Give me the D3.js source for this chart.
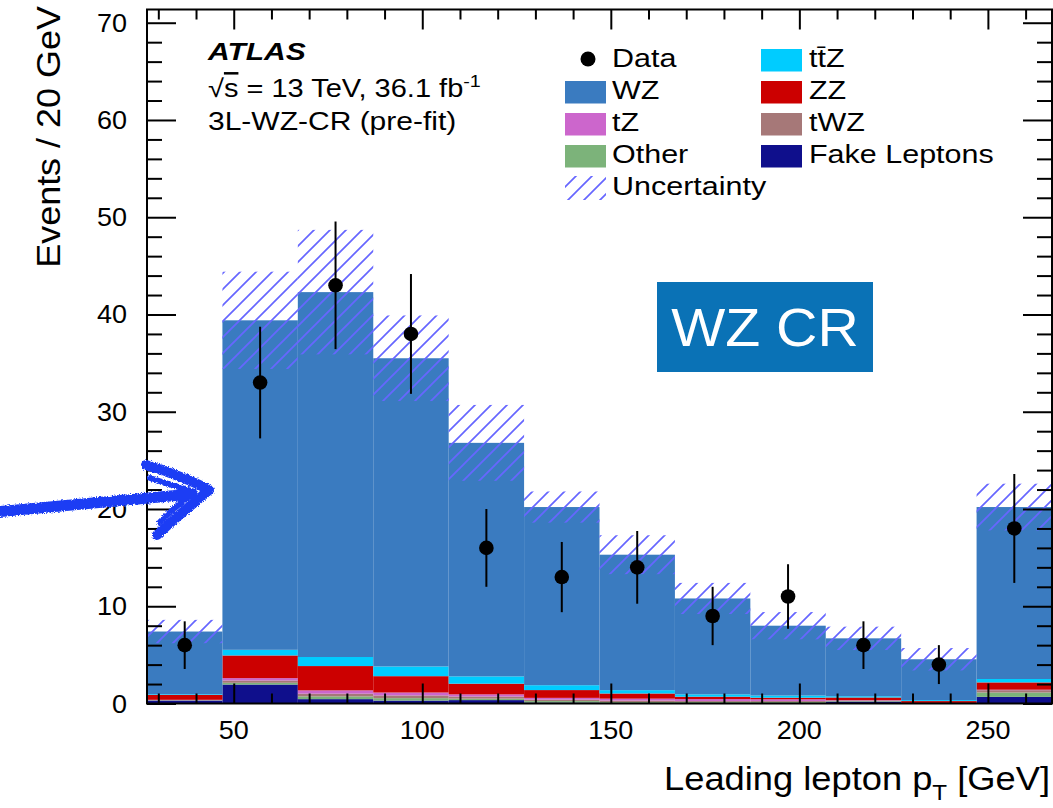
<!DOCTYPE html>
<html>
<head>
<meta charset="utf-8">
<script src="https://cdn.jsdelivr.net/npm/d3@7/dist/d3.min.js"></script>
<style>
  html, body { margin: 0; padding: 0; background: #fff; }
  svg { display: block; font-family: "Liberation Sans", Arial, Helvetica, sans-serif; }
</style>
</head>
<body>
<svg id="chart" width="1053" height="808"></svg>
<script>
// Leading lepton pT distribution, 3L-WZ-CR (pre-fit)
const binEdges = [27, 47, 67, 87, 107, 127, 147, 167, 187, 207, 227, 247, 267];

const dataCounts = [6, 33, 43, 38, 16, 13, 14, 9, 11, 6, 4, 18];
const dataErr    = [2.45, 5.74, 6.56, 6.16, 4.0, 3.61, 3.74, 3.0, 3.32, 2.45, 2.0, 5.6];

// background components, bottom of the stack first
const fakeLeptons = [0.30, 1.95, 0.45, 0.30, 0.35, 0.10, 0.05, 0.05, 0.05, 0.20, 0.02, 0.68];
const other       = [0.03, 0.18, 0.28, 0.25, 0.15, 0.15, 0.10, 0.10, 0.10, 0.05, 0.01, 0.45];
const tWZ         = [0.02, 0.24, 0.28, 0.28, 0.22, 0.15, 0.15, 0.10, 0.10, 0.05, 0.01, 0.24];
const tZ          = [0.03, 0.24, 0.34, 0.30, 0.22, 0.18, 0.20, 0.20, 0.18, 0.04, 0.01, 0.05];
const zz          = [0.50, 2.33, 2.50, 1.68, 1.10, 0.80, 0.53, 0.25, 0.17, 0.28, 0.20, 0.75];
const ttZ         = [0.07, 0.58, 0.93, 1.00, 0.75, 0.50, 0.34, 0.24, 0.22, 0.13, 0.10, 0.35];
const wz          = [6.45, 33.88, 37.52, 31.69, 24.01, 18.32, 13.93, 9.86, 7.18, 5.95, 4.20, 17.68];

const totalUncert = [1.2, 5.0, 6.4, 4.4, 3.9, 1.6, 2.0, 1.6, 1.4, 1.2, 1.15, 2.4];

const xMajorTicks = [50, 100, 150, 200, 250];
const xMinorTicks = [30, 40, 60, 70, 80, 90, 110, 120, 130, 140, 160, 170, 180, 190, 210, 220, 230, 240, 260];
const yMajorTicks = [0, 10, 20, 30, 40, 50, 60, 70];
const yMinorTicks = d3.range(0, 72, 2).filter(v => v % 10 !== 0);

const series = [
  { key: "fake",  name: "Fake Leptons", values: fakeLeptons, color: "#0f0f8c" },
  { key: "other", name: "Other",        values: other,       color: "#7cb37a" },
  { key: "tWZ",   name: "tWZ",          values: tWZ,         color: "#a67878" },
  { key: "tZ",    name: "tZ",           values: tZ,          color: "#cc66cc" },
  { key: "zz",    name: "ZZ",           values: zz,          color: "#cc0000" },
  { key: "ttZ",   name: "tt\u0304Z",    values: ttZ,         color: "#00ccff" },
  { key: "wz",    name: "WZ",           values: wz,          color: "#3a7bc0" }
];

const plot = { left: 147, right: 1052, top: 9.5, bottom: 703.5 };
const TEXT_SX = 1.2;   // horizontal stretch of the Helvetica-like text

const svg = d3.select("#chart");

const x = d3.scaleLinear().domain([binEdges[0], binEdges[binEdges.length - 1]]).range([plot.left, plot.right]);
const y = d3.scaleLinear().domain([0, 71.36]).range([plot.bottom, plot.top]);

// hatch pattern for the uncertainty band
const defs = svg.append("defs");
const hatch = defs.append("pattern")
  .attr("id", "hatch").attr("patternUnits", "userSpaceOnUse")
  .attr("width", 16).attr("height", 16);
hatch.append("path")
  .attr("d", "M0,16 L16,0 M-4,4 L4,-4 M12,20 L20,12")
  .attr("stroke", "#6666ff").attr("stroke-width", 1.7).attr("fill", "none");

// rough-edge filter for the marker-pen arrow
const rough = defs.append("filter").attr("id", "rough")
  .attr("x", "-10%").attr("y", "-20%").attr("width", "120%").attr("height", "140%");
rough.append("feTurbulence").attr("type", "fractalNoise").attr("baseFrequency", 0.9)
  .attr("numOctaves", 2).attr("seed", 3).attr("result", "noise");
rough.append("feDisplacementMap").attr("in", "SourceGraphic").attr("in2", "noise")
  .attr("scale", 4).attr("xChannelSelector", "R").attr("yChannelSelector", "G");

// stacked histogram
const rows = dataCounts.map((_, i) => {
  const r = { i };
  series.forEach(s => { r[s.key] = s.values[i]; });
  return r;
});
const stacked = d3.stack().keys(series.map(s => s.key))(rows);

const gHist = svg.append("g");
stacked.forEach((layer, li) => {
  gHist.selectAll(null).data(layer).enter().append("rect")
    .attr("x", d => x(binEdges[d.data.i]))
    .attr("width", d => x(binEdges[d.data.i + 1]) - x(binEdges[d.data.i]))
    .attr("y", d => y(d[1]))
    .attr("height", d => Math.max(0, y(d[0]) - y(d[1])))
    .attr("fill", series[li].color);
});

// uncertainty band on the total prediction
const totals = rows.map((r, i) => d3.sum(series, s => s.values[i]));
svg.append("g").selectAll("rect").data(totals).enter().append("rect")
  .attr("x", (d, i) => x(binEdges[i]))
  .attr("width", (d, i) => x(binEdges[i + 1]) - x(binEdges[i]))
  .attr("y", (d, i) => y(d + totalUncert[i]))
  .attr("height", (d, i) => y(d - totalUncert[i]) - y(d + totalUncert[i]))
  .attr("fill", "url(#hatch)");

// data points with error bars
const centers = dataCounts.map((_, i) => (binEdges[i] + binEdges[i + 1]) / 2);
const gData = svg.append("g");
gData.selectAll("line").data(dataCounts).enter().append("line")
  .attr("x1", (d, i) => x(centers[i])).attr("x2", (d, i) => x(centers[i]))
  .attr("y1", (d, i) => y(d + dataErr[i])).attr("y2", (d, i) => y(d - dataErr[i]))
  .attr("stroke", "#000").attr("stroke-width", 2);
gData.selectAll("circle").data(dataCounts).enter().append("circle")
  .attr("cx", (d, i) => x(centers[i])).attr("cy", d => y(d))
  .attr("r", 7.3).attr("fill", "#000");

// axes: ticks point into the frame, on all four sides
function tickAxis(axisFn, scale, values, size, transform) {
  const g = svg.append("g").attr("transform", transform)
    .call(axisFn(scale).tickValues(values).tickSizeInner(-size).tickSizeOuter(0).tickFormat(""));
  g.select(".domain").remove();
  g.selectAll(".tick line").attr("stroke", "#000").attr("stroke-width", 2);
  return g;
}
tickAxis(d3.axisBottom, x, xMajorTicks, 20, `translate(0,${plot.bottom})`);
tickAxis(d3.axisBottom, x, xMinorTicks, 10, `translate(0,${plot.bottom})`);
tickAxis(d3.axisTop, x, xMajorTicks, 20, `translate(0,${plot.top})`);
tickAxis(d3.axisTop, x, xMinorTicks, 10, `translate(0,${plot.top})`);
tickAxis(d3.axisLeft, y, yMajorTicks, 29, `translate(${plot.left},0)`);
tickAxis(d3.axisLeft, y, yMinorTicks, 15, `translate(${plot.left},0)`);
tickAxis(d3.axisRight, y, yMajorTicks, 29, `translate(${plot.right},0)`);
tickAxis(d3.axisRight, y, yMinorTicks, 15, `translate(${plot.right},0)`);

svg.append("rect")
  .attr("x", plot.left).attr("y", plot.top)
  .attr("width", plot.right - plot.left).attr("height", plot.bottom - plot.top)
  .attr("fill", "none").attr("stroke", "#000").attr("stroke-width", 2);

// text helper with horizontal stretch
function label(parent, px, py, str, o = {}) {
  const t = parent.append("text")
    .attr("transform", `translate(${px},${py}) ${o.rotate ? `rotate(${o.rotate})` : ""} scale(${o.sx ?? TEXT_SX},1)`)
    .attr("font-size", o.size || 25)
    .attr("text-anchor", o.anchor || "start")
    .attr("fill", o.fill || "#000");
  if (o.weight) t.attr("font-weight", o.weight);
  if (o.italic) t.attr("font-style", "italic");
  if (str !== null) t.text(str);
  return t;
}

const gText = svg.append("g");

// tick labels
xMajorTicks.forEach(v => label(gText, x(v), 739, String(v), { size: 25, anchor: "middle", sx: 1.08 }));
yMajorTicks.forEach(v => label(gText, 127, y(v) + 9, String(v), { size: 25, anchor: "end", sx: 1.08 }));

// axis titles
const xt = label(gText, 1050, 790, null, { size: 33, anchor: "end", sx: 1.1 });
xt.append("tspan").text("Leading lepton p");
xt.append("tspan").attr("font-size", 22).attr("dy", 10).text("T");
xt.append("tspan").attr("dy", -10).text(" [GeV]");

label(gText, 60, 6, "Events / 20 GeV", { size: 33, anchor: "end", rotate: -90, sx: 1.09 });

// ATLAS labels
label(gText, 208, 60, "ATLAS", { size: 24, weight: "bold", italic: true, sx: 1.25 });
const lumi = label(gText, 208, 97, null, { size: 25, sx: 1.16 });
lumi.append("tspan").text("\u221A");
lumi.append("tspan").style("text-decoration", "overline").text("s");
lumi.append("tspan").text(" = 13 TeV, 36.1 fb");
lumi.append("tspan").attr("font-size", 17).attr("dy", -10).text("-1");
label(gText, 208, 130, "3L-WZ-CR (pre-fit)", { size: 25, sx: 1.2 });

// legend
const gLeg = svg.append("g");
const legendRows = [
  { col: 0, row: 0, type: "data", name: "Data" },
  { col: 0, row: 1, key: "wz" },
  { col: 0, row: 2, key: "tZ" },
  { col: 0, row: 3, key: "other" },
  { col: 0, row: 4, type: "band", name: "Uncertainty" },
  { col: 1, row: 0, key: "ttZ" },
  { col: 1, row: 1, key: "zz" },
  { col: 1, row: 2, key: "tWZ" },
  { col: 1, row: 3, key: "fake" }
];
const colBoxX = [565, 761], colTextX = [612, 809];
const rowCenterY = r => 60 + r * 32;
legendRows.forEach(e => {
  const cy = rowCenterY(e.row);
  const bx = colBoxX[e.col];
  let name = e.name;
  if (e.type === "data") {
    gLeg.append("circle").attr("cx", bx + 23).attr("cy", cy - 1).attr("r", 7.5).attr("fill", "#000");
  } else if (e.type === "band") {
    gLeg.append("rect").attr("x", bx).attr("y", cy - 12).attr("width", 41).attr("height", 24)
      .attr("fill", "url(#hatch)");
  } else {
    const s = series.find(d => d.key === e.key);
    name = s.name;
    gLeg.append("rect").attr("x", bx).attr("y", cy - 11).attr("width", 41).attr("height", 22.5)
      .attr("fill", s.color);
  }
  label(gLeg, colTextX[e.col], cy + 7, name, { size: 25, sx: 1.22 });
});

// "WZ CR" region tag
const tag = svg.append("g");
tag.append("rect").attr("x", 657).attr("y", 282).attr("width", 216).attr("height", 90).attr("fill", "#0a72b6");
label(tag, 765, 346, "WZ CR", { size: 53, anchor: "middle", fill: "#fff", sx: 1.08 });

// hand-drawn marker arrow pointing at the plot
const arrow = svg.append("g").attr("filter", "url(#rough)")
  .attr("fill", "none").attr("stroke", "#1c3ef4").attr("stroke-linecap", "round").attr("stroke-linejoin", "round");
arrow.append("path").attr("d", "M-5,512 C60,506 130,500 192,494").attr("stroke-width", 11);
arrow.append("path").attr("d", "M146,465 C175,474 195,482 209,490 C192,505 172,520 157,535").attr("stroke-width", 10);
arrow.append("path").attr("d", "M150,478 C168,484 182,488 194,492 C181,502 170,512 160,522").attr("stroke-width", 6);
</script>
</body>
</html>
